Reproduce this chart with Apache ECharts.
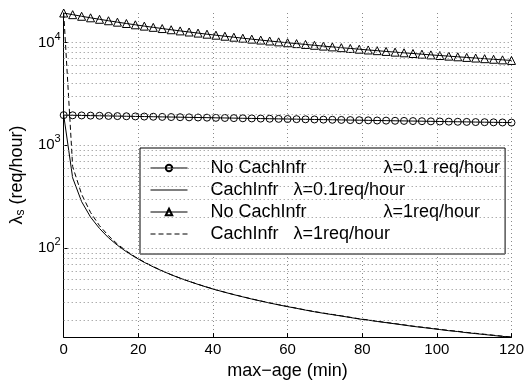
<!DOCTYPE html>
<html>
<head>
<meta charset="utf-8">
<script src="https://cdn.jsdelivr.net/npm/echarts@6/dist/echarts.min.js"></script>
<style>html,body{margin:0;padding:0;background:#fff;}#c{width:527px;height:385px;}</style>
</head>
<body>
<div id="c"></div>
<script>
// ---- data ----
var maxAge = [0,2.4,4.8,7.2,9.6,12,14.4,16.8,19.2,21.6,24,26.4,28.8,31.2,33.6,36,38.4,40.8,43.2,45.6,48,50.4,52.8,55.2,57.6,60,62.4,64.8,67.2,69.6,72,74.4,76.8,79.2,81.6,84,86.4,88.8,91.2,93.6,96,98.4,100.8,103.2,105.6,108,110.4,112.8,115.2,117.6,120];
var noCache01 = [1967,1960,1953,1946,1939,1932,1925,1918,1911,1905,1898,1891,1885,1878,1871,1865,1859,1852,1846,1840,1833,1827,1821,1815,1809,1803,1797,1791,1785,1779,1773,1767,1761,1756,1750,1744,1739,1733,1728,1722,1717,1711,1706,1700,1695,1690,1684,1679,1674,1669,1664];
var cache01 = [1967,482,283,200,155,126,106.5,92.1,81.2,72.6,65.6,59.9,55.0,50.9,47.4,44.3,41.6,39.2,37.1,35.2,33.5,31.9,30.5,29.2,28.0,26.9,25.9,24.9,24.0,23.2,22.5,21.8,21.1,20.4,19.9,19.3,18.8,18.3,17.8,17.3,16.9,16.5,16.1,15.7,15.4,15.0,14.7,14.4,14.1,13.8,13.6];
var noCache1 = [19400,18690,18030,17420,16850,16310,15800,15330,14890,14460,14070,13690,13330,12990,12670,12370,12070,11800,11530,11280,11030,10800,10580,10360,10160,9960,9770,9590,9410,9240,9080,8920,8770,8620,8470,8340,8200,8070,7950,7830,7710,7590,7480,7380,7270,7170,7070,6970,6880,6790,6700];
var cache1 = [19400,622,334,222,165,132,109.3,93.6,82.0,73.0,65.9,60.1,55.1,51.0,47.5,44.4,41.7,39.3,37.2,35.3,33.6,32.0,30.6,29.3,28.1,27.0,26.0,25.0,24.1,23.3,22.6,21.9,21.2,20.5,20.0,19.4,18.9,18.4,17.9,17.4,17.0,16.6,16.2,15.8,15.5,15.1,14.8,14.5,14.2,13.9,13.6];
var seriesNames = ['No CachInfr', 'CachInfr', 'No CachInfr', 'CachInfr'];
var lambdaLabels = ['λ=0.1 req/hour', 'λ=0.1req/hour', 'λ=1req/hour', 'λ=1req/hour'];
var xTicks = [0, 20, 40, 60, 80, 100, 120];
var yGridValues = [20,30,40,50,60,70,80,90,100,200,300,400,500,600,700,800,900,1000,2000,3000,4000,5000,6000,7000,8000,9000,10000];
var yMin = 13.6, yMax = 19400;
var xLabel = 'max−age (min)';

// ---- chart ----
var FONT = 'Liberation Sans, Arial, Helvetica, sans-serif';
function pairs(ys) { return maxAge.map(function (x, i) { return [x, ys[i]]; }); }
var fullNames = seriesNames.map(function (n, i) { return n + ' ' + lambdaLabels[i]; });
var dotted = { color: '#8a8a8a', width: 1, type: [1, 3] };
var hasMarker = [true, false, true, false];

var chart = echarts.init(document.getElementById('c'), null, { renderer: 'canvas' });
chart.setOption({
  animation: false,
  backgroundColor: '#fff',
  grid: { left: 53, right: 10, top: 13, bottom: 39, containLabel: false },
  legend: {
    orient: 'vertical', left: 140, top: 148,
    itemWidth: 37, itemHeight: 8, itemGap: 4,
    padding: [11, 5, 11, 10],
    borderColor: '#000', borderWidth: 1, backgroundColor: '#fff',
    selectedMode: false,
    lineStyle: { width: 1 },
    data: fullNames.map(function (n, i) {
      return hasMarker[i] ? { name: n } :
        { name: n, itemStyle: { color: 'rgba(0,0,0,0)', borderColor: 'rgba(0,0,0,0)', borderWidth: 0 } };
    }),
    formatter: function (name) {
      var i = fullNames.indexOf(name);
      var key = seriesNames[i] === 'No CachInfr' ? 'wide' : 'narrow';
      return '{' + key + '|' + seriesNames[i] + '}{lam|' + lambdaLabels[i] + '}';
    },
    textStyle: {
      fontFamily: FONT, fontSize: 18, color: '#000',
      rich: {
        wide: { fontFamily: FONT, fontSize: 18, width: 173, padding: [0, 0, 0, 18], lineHeight: 16 },
        narrow: { fontFamily: FONT, fontSize: 18, width: 83, padding: [0, 0, 0, 18], lineHeight: 16 },
        lam: { fontFamily: FONT, fontSize: 18, lineHeight: 16 }
      }
    }
  },
  xAxis: {
    type: 'value', min: 0, max: 120, interval: 20,
    name: xLabel, nameLocation: 'middle', nameGap: 20,
    nameTextStyle: { fontFamily: FONT, fontSize: 18, color: '#000' },
    axisLine: { lineStyle: { color: '#000', width: 1 } },
    axisTick: { inside: true, length: 4, lineStyle: { color: '#000' } },
    axisLabel: { fontFamily: FONT, fontSize: 15, color: '#000', margin: 5 },
    splitLine: { show: true, lineStyle: dotted }
  },
  yAxis: {
    type: 'log', logBase: 10, min: yMin, max: yMax,
    name: '{a|λ}{sub|s}{a| (req/hour)}', nameLocation: 'middle', nameGap: 28,
    nameTextStyle: {
      fontFamily: FONT, fontSize: 18, color: '#000',
      rich: {
        a: { fontFamily: FONT, fontSize: 18, color: '#000' },
        sub: { fontFamily: FONT, fontSize: 12, color: '#000', padding: [8, 0, 0, 0] }
      }
    },
    axisLine: { show: true, lineStyle: { color: '#000', width: 1 } },
    axisTick: { show: true, inside: true, length: 4, lineStyle: { color: '#000' } },
    splitLine: { show: false },
    axisLabel: {
      showMinLabel: false, showMaxLabel: false, margin: 3,
      formatter: function (v) {
        var p = Math.round(Math.log(v) / Math.LN10);
        return '{b|10}{s|' + p + '}';
      },
      rich: {
        b: { fontFamily: FONT, fontSize: 15, color: '#000' },
        s: { fontFamily: FONT, fontSize: 11, color: '#000', padding: [0, 0, 12, 0] }
      }
    }
  },
  series: [
    {
      name: fullNames[0], type: 'line', data: pairs(noCache01),
      symbol: 'circle', symbolSize: 7, showSymbol: true,
      lineStyle: { color: '#000', width: 1 },
      itemStyle: { color: 'rgba(0,0,0,0)', borderColor: '#000', borderWidth: 1 },
      z: 3,
      markLine: {
        silent: true, symbol: 'none', label: { show: false },
        lineStyle: dotted, animation: false,
        data: yGridValues.map(function (v) { return { yAxis: v }; })
      }
    },
    {
      name: fullNames[1], type: 'line', data: pairs(cache01),
      symbol: 'none', showSymbol: false,
      lineStyle: { color: '#000', width: 1, type: 'solid' },
      itemStyle: { color: '#000' }, z: 3
    },
    {
      name: fullNames[2], type: 'line', data: pairs(noCache1),
      symbol: 'triangle', symbolSize: 8, showSymbol: true,
      lineStyle: { color: '#000', width: 1 },
      itemStyle: { color: 'rgba(0,0,0,0)', borderColor: '#000', borderWidth: 1 },
      z: 3
    },
    {
      name: fullNames[3], type: 'line', data: pairs(cache1),
      symbol: 'none', showSymbol: false,
      lineStyle: { color: '#000', width: 1, type: [5, 3] },
      itemStyle: { color: '#000' }, z: 3
    }
  ]
});
</script>
</body>
</html>
